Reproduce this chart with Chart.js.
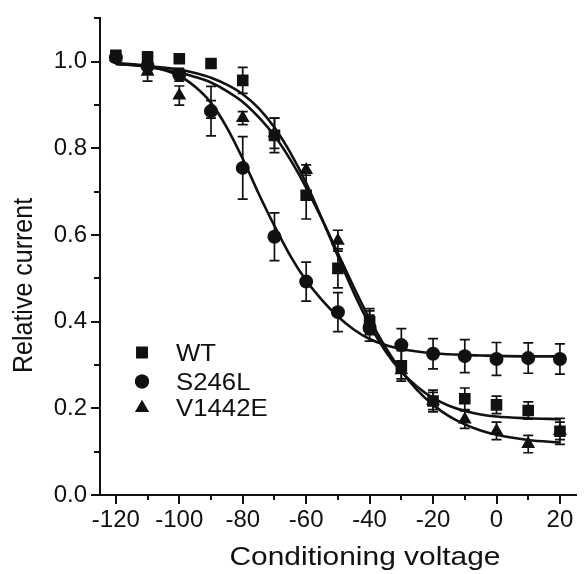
<!DOCTYPE html>
<html><head><meta charset="utf-8">
<script src="https://cdn.jsdelivr.net/npm/chart.js@4/dist/chart.umd.min.js"></script>
<style>html,body{margin:0;padding:0;background:#fff}#wrap{width:584px;height:574px}</style>
</head><body><div id="wrap"><canvas id="c" width="584" height="574"></canvas></div>
<script>
// ---- data ----
const voltages = [-120,-110,-100,-90,-80,-70,-60,-50,-40,-30,-20,-10,0,10,20];
const wtMean = [1.015,1.011,1.007,0.996,0.957,0.83,0.692,0.523,0.40,0.298,0.217,0.222,0.208,0.195,0.147];
const wtErr  = [0.01,0.012,0.008,0.008,0.03,0.04,0.055,0.045,0.03,0.035,0.025,0.025,0.02,0.02,0.03];
const s246lMean = [1.01,0.99,0.97,0.886,0.755,0.596,0.4925,0.422,0.385,0.346,0.326,0.3205,0.314,0.316,0.314];
const s246lErr  = [0.01,0.015,0.015,0.057,0.072,0.055,0.045,0.045,0.03,0.038,0.035,0.038,0.038,0.035,0.035];
const v1442eMean = [1.01,0.977,0.922,0.89,0.87,0.835,0.75,0.587,0.40,0.288,0.217,0.174,0.148,0.1175,0.148];
const v1442eErr  = [0.01,0.022,0.022,0.02,0.015,0.035,0.012,0.024,0.025,0.02,0.02,0.02,0.02,0.02,0.02];

const fitVoltages = [-120,-110,-100,-95,-90,-85,-80,-75,-70,-65,-60,-55,-50,-45,-40,-35,-30,-25,-20,-15,-10,-5,0,10,20];
const wtFit    = [0.995,0.99,0.982,0.974,0.963,0.947,0.925,0.893,0.848,0.79,0.72,0.637,0.551,0.467,0.393,0.332,0.285,0.25,0.224,0.206,0.194,0.186,0.181,0.177,0.175];
const v1442eFit= [0.995,0.988,0.975,0.965,0.952,0.932,0.907,0.872,0.829,0.774,0.709,0.636,0.558,0.48,0.406,0.341,0.286,0.242,0.208,0.182,0.163,0.149,0.139,0.127,0.121];
const s246lFit = [0.997,0.99,0.967,0.942,0.905,0.848,0.776,0.696,0.621,0.552,0.495,0.45,0.412,0.382,0.36,0.346,0.337,0.331,0.327,0.325,0.323,0.322,0.321,0.32,0.32];

const seriesNames = ['WT','S246L','V1442E'];
const xTicks = [-120,-100,-80,-60,-40,-20,0,20];
const xMinorTicks = [-110,-90,-70,-50,-30,-10,10];
const yTicks = [0,0.2,0.4,0.6,0.8,1.0];
const yMinorTicks = [0.1,0.3,0.5,0.7,0.9,1.1];
const xTitle = 'Conditioning voltage';
const yTitle = 'Relative current';

// ---- helpers ----
const INK = '#111';
const pts = (xs, ys) => xs.map((x, i) => ({x, y: ys[i]}));
const markerSets = [
  {label: seriesNames[0], mean: wtMean, err: wtErr, style: 'rect', r: 8.2},
  {label: seriesNames[1], mean: s246lMean, err: s246lErr, style: 'circle', r: 7},
  {label: seriesNames[2], mean: v1442eMean, err: v1442eErr, style: 'triangle', r: 8}
];

const datasets = [];
[wtFit, s246lFit, v1442eFit].forEach((f, i) => {
  datasets.push({
    type: 'line', label: seriesNames[i] + ' fit', data: pts(fitVoltages, f),
    borderColor: INK, borderWidth: 2.6, pointRadius: 0, showLine: true,
    cubicInterpolationMode: 'monotone', fill: false
  });
});
markerSets.forEach(m => {
  datasets.push({
    type: 'scatter', label: m.label, data: pts(voltages, m.mean), errs: m.err,
    showLine: false, pointStyle: m.style, pointRadius: m.r, pointHoverRadius: m.r,
    backgroundColor: INK, borderColor: INK, borderWidth: 0
  });
});

const errorBars = {
  id: 'errorBars',
  afterDatasetsDraw(chart) {
    const {ctx, scales: {x, y}} = chart;
    ctx.save();
    ctx.strokeStyle = INK; ctx.lineWidth = 1.7;
    chart.data.datasets.forEach(ds => {
      if (!ds.errs) return;
      ds.data.forEach((p, i) => {
        const e = ds.errs[i];
        const px = x.getPixelForValue(p.x);
        const y1 = y.getPixelForValue(p.y + e), y2 = y.getPixelForValue(p.y - e);
        ctx.beginPath();
        ctx.moveTo(px, y1); ctx.lineTo(px, y2);
        ctx.moveTo(px - 5, y1); ctx.lineTo(px + 5, y1);
        ctx.moveTo(px - 5, y2); ctx.lineTo(px + 5, y2);
        ctx.stroke();
      });
    });
    ctx.restore();
  }
};

const decor = {
  id: 'decor',
  afterDraw(chart) {
    const {ctx, chartArea: a, scales: {x, y}} = chart;
    ctx.save();
    ctx.strokeStyle = INK; ctx.lineWidth = 2;
    // minor ticks
    ctx.beginPath();
    xMinorTicks.forEach(v => { const px = Math.round(x.getPixelForValue(v)); ctx.moveTo(px, a.bottom); ctx.lineTo(px, a.bottom + 5); });
    yMinorTicks.forEach(v => { const py = Math.round(y.getPixelForValue(v)); ctx.moveTo(a.left, py); ctx.lineTo(a.left - 6, py); });
    ctx.stroke();
    ctx.fillStyle = INK;
    // x title
    ctx.save();
    ctx.font = '26px "Liberation Sans", Arial, sans-serif';
    ctx.textAlign = 'center'; ctx.textBaseline = 'alphabetic';
    ctx.translate(365, 565); ctx.scale(1.15, 1);
    ctx.fillText(xTitle, 0, 0);
    ctx.restore();
    // y title
    ctx.save();
    ctx.font = '25px "Liberation Sans", Arial, sans-serif';
    ctx.textAlign = 'left'; ctx.textBaseline = 'alphabetic';
    ctx.translate(32, 373); ctx.rotate(-Math.PI / 2); ctx.scale(1, 1.08);
    ctx.fillText(yTitle, 0, 0);
    ctx.restore();
    // legend
    const ly = [352.5, 381.5, 408];
    markerSets.forEach((m, i) => {
      Chart.helpers.drawPoint(ctx, {pointStyle: m.style, radius: m.r, rotation: 0, borderWidth: 0}, 142, ly[i]);
      ctx.fill();
      ctx.save();
      ctx.font = '23px "Liberation Sans", Arial, sans-serif';
      ctx.textAlign = 'left'; ctx.textBaseline = 'alphabetic';
      ctx.translate(176, ly[i] + 8.3); ctx.scale(1.12, 1);
      ctx.fillText(m.label, 0, 0);
      ctx.restore();
    });
    ctx.restore();
  }
};

const tickFont = {family: '"Liberation Sans", Arial, sans-serif', size: 24};

new Chart(document.getElementById('c'), {
  type: 'scatter',
  data: {datasets},
  options: {
    responsive: false, animation: false, devicePixelRatio: 1,
    layout: {padding: {top: 10, left: 0, right: 0, bottom: 0}},
    plugins: {legend: {display: false}, tooltip: {enabled: false}, title: {display: false}},
    scales: {
      x: {
        type: 'linear', min: -125, max: 25,
        afterBuildTicks: s => { s.ticks = xTicks.map(v => ({value: v})); },
        afterFit: s => { s.height = 79; },
        ticks: {autoSkip: false, maxRotation: 0, color: INK, font: tickFont, padding: 2, callback: v => String(v)},
        grid: {display: true, drawOnChartArea: false, drawTicks: true, tickLength: 9, color: INK, lineWidth: 2},
        border: {display: true, color: INK, width: 2}
      },
      y: {
        type: 'linear', min: 0, max: 1.1,
        afterBuildTicks: s => { s.ticks = yTicks.map(v => ({value: v})); },
        afterFit: s => { s.width = 100; },
        ticks: {autoSkip: false, color: INK, font: tickFont, padding: 4, callback: v => Number(v).toFixed(1)},
        grid: {display: true, drawOnChartArea: false, drawTicks: true, tickLength: 9, color: INK, lineWidth: 2},
        border: {display: true, color: INK, width: 2}
      }
    }
  },
  plugins: [errorBars, decor]
});
</script></body></html>
